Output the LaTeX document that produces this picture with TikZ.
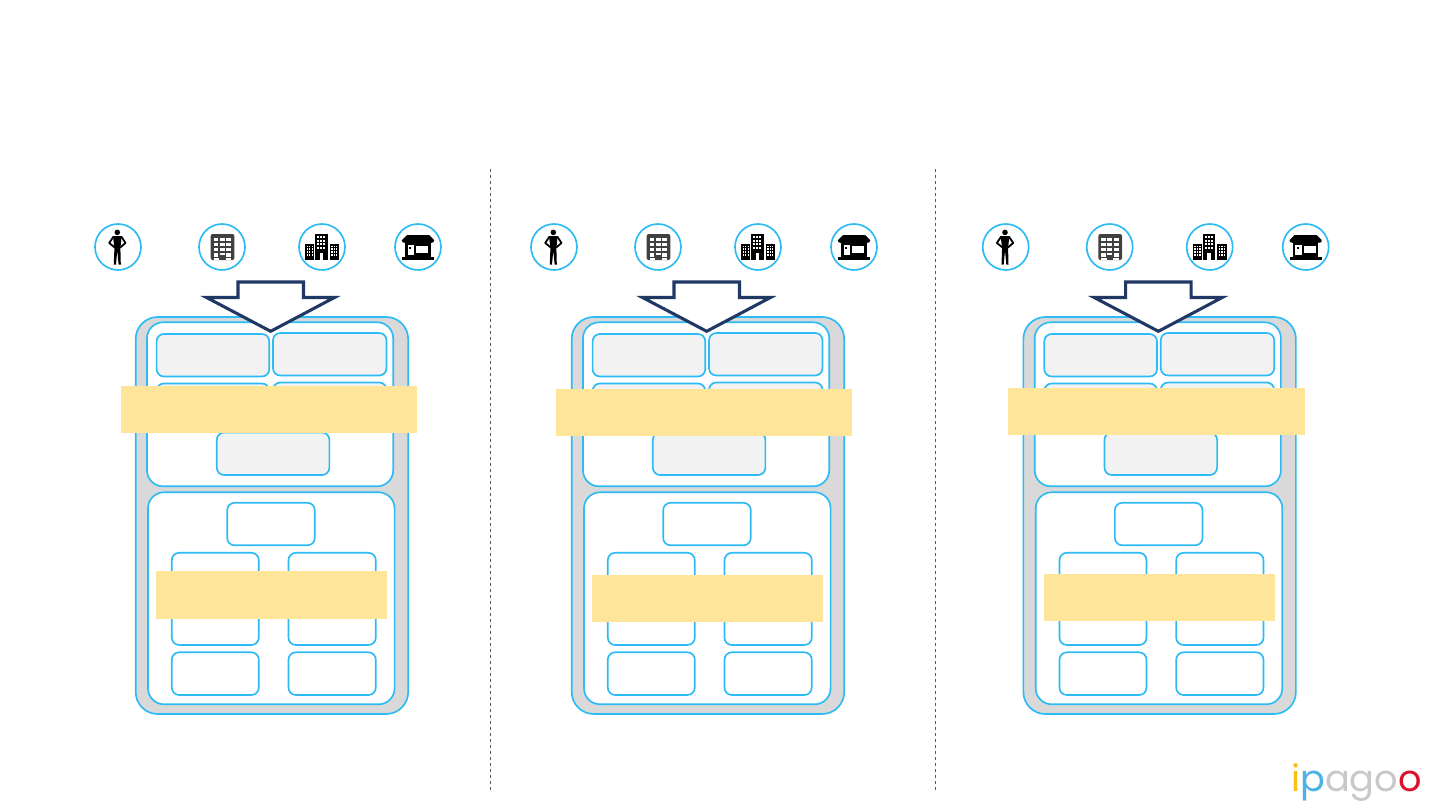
\documentclass[tikz,border=0pt]{standalone}
\usepackage{fontspec}
\setmainfont{Poppins}
\definecolor{skyb}{HTML}{2DBBF5}
\definecolor{panelgray}{HTML}{D9D9D9}
\definecolor{cellgray}{HTML}{F2F2F2}
\definecolor{bandy}{HTML}{FEE599}
\definecolor{navy}{HTML}{1F3864}
\definecolor{rulegray}{HTML}{595959}
\definecolor{darkb}{HTML}{404040}
\definecolor{logoy}{HTML}{FDC010}
\definecolor{logob}{HTML}{4DB2E6}
\definecolor{logog}{HTML}{C8C8C8}
\definecolor{logor}{HTML}{DC1028}
\tikzset{
  box/.style={rectangle,draw=skyb,line width=1.25pt,inner sep=0pt,outer sep=0pt},
  outerbox/.style={box,fill=panelgray,rounded corners=16.5pt},
  innerbox/.style={box,fill=white,rounded corners=12pt},
  greycell/.style={box,fill=cellgray,rounded corners=5.5pt},
  whitecell/.style={box,fill=white,rounded corners=5.5pt},
  band/.style={rectangle,fill=bandy,inner sep=0pt,outer sep=0pt},
  badge/.style={circle,draw=skyb,fill=white,line width=1.25pt,minimum size=34.5pt,inner sep=0pt},
  downarrow/.style={draw=navy,fill=white,line width=2.3pt,miter limit=10},
  divider/.style={draw=rulegray,line width=0.9pt,dash pattern=on 2.6pt off 1.9pt},
}
% \bx{name}{style}{x1}{y1}{x2}{y2}
\newcommand{\bx}[6]{\node[#2,minimum width={(#5-(#3))*0.75pt},minimum height={(#6-(#4))*0.75pt}] (#1) at ({(#3+#5)/2},{(#4+#6)/2}) {};}
\newcommand{\personicon}[2]{%
  \begin{scope}[shift={(#1,#2)}]
  \fill (-0.7,-14.6) circle (2.8);
  \fill (-5,-11) -- (3.6,-11) -- (2.4,1.5) -- (2.8,17.5) -- (0.6,17.5) -- (-0.7,3.5) -- (-2,17.5) -- (-4.2,17.5) -- (-3.6,1.5) -- cycle;
  \draw[line width=1.35pt,line join=round] (-4.5,-10.5) -- (-8.8,-4) -- (-3.2,0.5);
  \draw[line width=1.35pt,line join=round] (3.2,-10.5) -- (7.5,-4) -- (2.2,0.5);
  \end{scope}}
\newcommand{\towericon}[2]{%
  \begin{scope}[shift={(#1,#2)}]
  \fill[darkb,rounded corners=1.5pt] (-11.3,-13) rectangle (12.3,13);
  \foreach \r in {0,1,2}{\foreach \c in {0,1,2}{
    \fill[white] ({-8.5+\c*6.2},{-9.5+\r*5.2}) rectangle ({-3.6+\c*6.2},{-6+\r*5.2});}}
  \fill[white] (-8.5,6.1) rectangle (-3.6,9.6);
  \fill[white] (3.9,6.1) rectangle (8.8,9.6);
  \fill[white] (-2.3,6.1) rectangle (2.6,7.6);
  \fill[white] (-8.5,11) rectangle (-3.2,13);
  \fill[white] (3.5,11) rectangle (8.8,13);
  \end{scope}}
\newcommand{\blocksicon}[2]{%
  \begin{scope}[shift={(#1,#2)}]
  \fill (-16.7,-3.3) rectangle (-8,13);
  \fill (-7,-13.3) rectangle (5.7,13);
  \fill (7.7,-3.3) rectangle (17,13);
  \foreach \r in {0,1,2,3}{\foreach \c in {0,1,2}{
    \fill[white] ({-15.3+\c*2.4},{-1.5+\r*2.9}) rectangle ({-14+\c*2.4},{0+\r*2.9});
    \fill[white] ({9.2+\c*2.4},{-1.5+\r*2.9}) rectangle ({10.5+\c*2.4},{0+\r*2.9});
    \fill[white] ({-4.8+\c*3},{-11+\r*3.7}) rectangle ({-3+\c*3},{-9+\r*3.7});}}
  \fill[white] (-2.5,6) rectangle (1.2,13);
  \end{scope}}
\newcommand{\shopicon}[2]{%
  \begin{scope}[shift={(#1,#2)}]
  \fill (-11,-12) -- (11,-12) -- (16,-7) -- (16,-6)
    arc[start angle=0,end angle=180,x radius=2.67,y radius=1.8]
    arc[start angle=0,end angle=180,x radius=2.67,y radius=1.8]
    arc[start angle=0,end angle=180,x radius=2.67,y radius=1.8]
    arc[start angle=0,end angle=180,x radius=2.67,y radius=1.8]
    arc[start angle=0,end angle=180,x radius=2.67,y radius=1.8]
    arc[start angle=0,end angle=180,x radius=2.67,y radius=1.8]
    -- (-16,-7) -- cycle;
  \fill (-13,-6) rectangle (12.5,11);
  \fill[white] (-10.3,-2) rectangle (-3.6,8);
  \fill[white] (-1.8,-1) rectangle (10.3,6);
  \fill (-8.6,0.4) rectangle (-6.8,2.2);
  \fill (-16,10) rectangle (16,12.6);
  \end{scope}}
% one panel: #1 x offset, #2 suffix, #3 upper band x1, #4 upper band y1, #5 lower band x1, #6 lower band y1
\newcommand{\panel}[6]{%
  \bx{outer#2}{outerbox}{135.7+#1}{317}{408.2+#1}{714}
  \bx{upper#2}{innerbox}{147+#1}{322.3}{393.2+#1}{486.3}
  \bx{lower#2}{innerbox}{148+#1}{492.3}{394.6+#1}{704.3}
  \bx{ca#2}{greycell}{156.6+#1}{334}{269.3+#1}{376.5}
  \bx{cb#2}{greycell}{273+#1}{333}{386.5+#1}{375.5}
  \bx{cc#2}{greycell}{156.6+#1}{383.5}{269.3+#1}{426}
  \bx{cd#2}{greycell}{273+#1}{382.5}{386.5+#1}{425}
  \bx{ce#2}{greycell}{216.8+#1}{432.5}{329.4+#1}{475}
  \bx{cf#2}{whitecell}{227.2+#1}{502.8}{314.8+#1}{545.3}
  \bx{cg#2}{whitecell}{171.8+#1}{552.8}{258.8+#1}{645}
  \bx{ch#2}{whitecell}{288.5+#1}{552.8}{375.8+#1}{645}
  \bx{ci#2}{whitecell}{171.8+#1}{652.3}{258.8+#1}{695}
  \bx{cj#2}{whitecell}{288.5+#1}{652.3}{375.8+#1}{695}
  \draw[downarrow] (238+#1,282) -- (303.5+#1,282) -- (303.5+#1,297.5) -- (334.5+#1,297.5) -- (270.7+#1,331.3) -- (206.5+#1,297.5) -- (238+#1,297.5) -- cycle;
  \bx{bandu#2}{band}{#3}{#4}{#3+296.5}{#4+47}
  \bx{bandl#2}{band}{#5}{#6}{#5+231.2}{#6+47.5}
  \node[badge] (person#2) at (118+#1,247) {};
  \node[badge] (tower#2) at (222+#1,247) {};
  \node[badge] (blocks#2) at (322+#1,247) {};
  \node[badge] (shop#2) at (418+#1,247) {};
  \personicon{118+#1}{247}
  \towericon{222+#1}{247}
  \blocksicon{322+#1}{247}
  \shopicon{418+#1}{247}
}
\begin{document}
\begin{tikzpicture}[x=0.75pt,y=-0.75pt]
\useasboundingbox (0,0) rectangle (1440,810);
\fill[white] (0,0) rectangle (1440,810);
\coordinate (d1a) at (490.5,169); \coordinate (d1b) at (490.5,791);
\coordinate (d2a) at (935.5,169); \coordinate (d2b) at (935.5,791);
\draw[divider] (d1a) -- (d1b);
\draw[divider] (d2a) -- (d2b);
\panel{0}{A}{120.8}{386}{156}{571.2}
\panel{436}{B}{555.8}{389}{592}{574.7}
\panel{887.7}{C}{1008}{388}{1044}{573.8}
\node[inner sep=0pt,anchor=base west,font=\fontsize{27.5pt}{30pt}\selectfont] (logo) at (1291,791)
  {\textcolor{logoy}{i}\textcolor{logob}{p}\textcolor{logog}{ago}\textcolor{logor}{o}};
\node[inner sep=0pt,font=\fontsize{3.5pt}{4pt}\selectfont,text=logog] (reg) at (1420.5,769.5) {®};
\end{tikzpicture}
\end{document}
